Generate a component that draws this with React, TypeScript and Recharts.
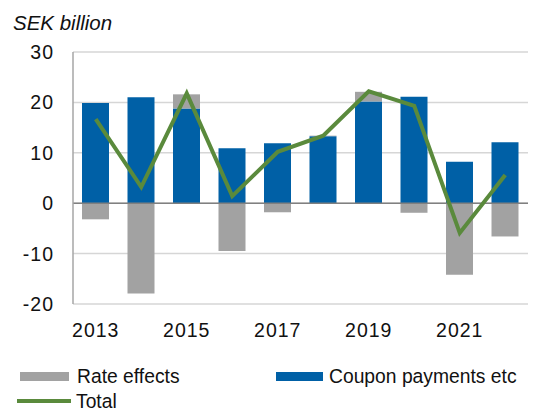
import React from 'react';
import { ComposedChart, Bar, Line, XAxis, YAxis, CartesianGrid, ReferenceLine } from 'recharts';

const years = ['2013', '2014', '2015', '2016', '2017', '2018', '2019', '2020', '2021', '2022'];
const couponPayments = [19.9, 21.0, 18.8, 10.9, 11.9, 13.3, 20.2, 21.1, 8.2, 12.1];
const rateEffects = [-3.2, -17.9, 2.8, -9.5, -1.8, 0.1, 1.9, -1.9, -14.2, -6.6];
const totals = [16.7, 3.2, 21.8, 1.4, 10.2, 13.4, 22.2, 19.3, -5.9, 5.6];
const yTicks = [-20, -10, 0, 10, 20, 30];

const data = years.map((year, i) => ({
  year,
  coupon: couponPayments[i],
  rate: rateEffects[i],
  total: totals[i],
}));

const FONT = '"Liberation Sans", Arial, Helvetica, sans-serif';
const BLUE = '#0060A6';
const GREY = '#A2A2A2';
const GREEN = '#5A8A3C';

export default function App() {
  return (
    <div style={{ position: 'absolute', left: 0, top: 0, width: 548, height: 410, background: '#fff' }}>
      <ComposedChart
        width={548}
        height={410}
        data={data}
        stackOffset="sign"
        margin={{ top: 52, right: 20, bottom: 66, left: 0 }}
      >
        <CartesianGrid vertical={false} stroke="#d6d6d6" strokeWidth={1.5} />
        <XAxis
          dataKey="year"
          interval={1}
          tickLine={false}
          axisLine={false}
          tickSize={0}
          tickMargin={19}
          height={40}
          tick={{ fill: '#111', fontSize: 19.5, fontFamily: FONT, letterSpacing: 1 }}
        />
        <YAxis
          domain={[-20, 30]}
          ticks={yTicks}
          width={73}
          tickLine={false}
          axisLine={{ stroke: '#a6a6a6', strokeWidth: 1.5 }}
          tickSize={0}
          tickMargin={19}
          tick={{ fill: '#111', fontSize: 19.5, fontFamily: FONT, letterSpacing: 1 }}
        />
        <Bar dataKey="coupon" stackId="a" fill={BLUE} barSize={27} isAnimationActive={false} />
        <Bar dataKey="rate" stackId="a" fill={GREY} barSize={27} isAnimationActive={false} />
        <ReferenceLine y={0} stroke="#808080" strokeWidth={1.5} />
        <Line
          type="linear"
          dataKey="total"
          stroke={GREEN}
          strokeWidth={4}
          dot={false}
          activeDot={false}
          isAnimationActive={false}
        />
      </ComposedChart>
      <svg
        width={548}
        height={410}
        style={{ position: 'absolute', left: 0, top: 0, pointerEvents: 'none' }}
      >
        <text x={13} y={30} fontSize={20.5} fontStyle="italic" fontFamily={FONT} fill="#111">
          SEK billion
        </text>
        <rect x={20} y={372} width={49} height={9} fill={GREY} />
        <text x={77} y={382.5} fontSize={19.3} fontFamily={FONT} fill="#111">
          Rate effects
        </text>
        <rect x={276} y={372} width={47} height={9} fill={BLUE} />
        <text x={329} y={382.5} fontSize={19.3} fontFamily={FONT} fill="#111">
          Coupon payments etc
        </text>
        <line x1={17} y1={401} x2={71} y2={401} stroke={GREEN} strokeWidth={4} />
        <text x={76} y={407.5} fontSize={19.3} fontFamily={FONT} fill="#111">
          Total
        </text>
      </svg>
    </div>
  );
}
